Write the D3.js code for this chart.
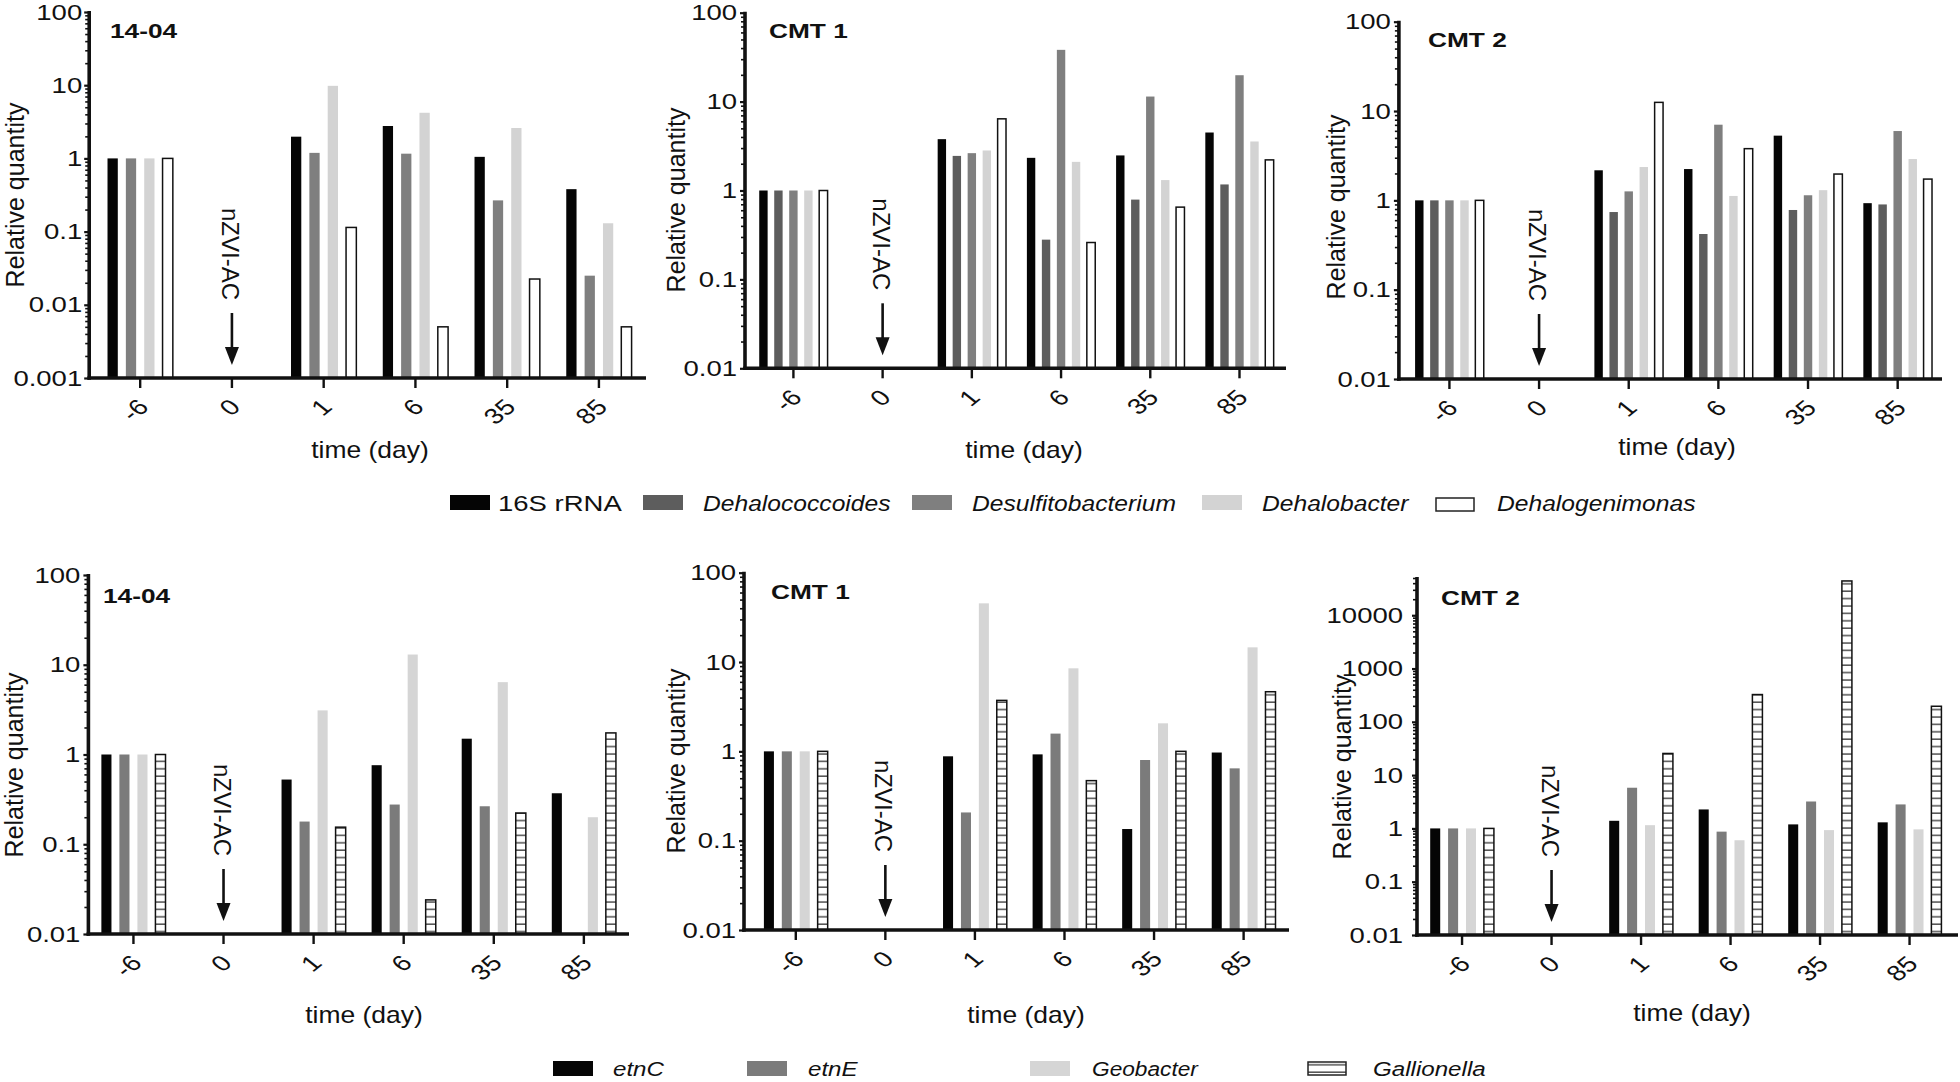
<!DOCTYPE html>
<html>
<head>
<meta charset="utf-8">
<script src="https://cdn.jsdelivr.net/npm/d3@7"></script>
<style>
  html, body { margin: 0; padding: 0; background: #fff; }
  svg { display: block; font-family: "Liberation Sans", Arial, sans-serif; }
</style>
</head>
<body>
<svg id="chart" width="1960" height="1082"></svg>
<script>
// ---------------- DATA ----------------
const days = ["-6", "0", "1", "6", "35", "85"];
const seriesTop = ["16S rRNA", "Dehalococcoides", "Desulfitobacterium", "Dehalobacter", "Dehalogenimonas"];
const seriesBottom = ["etnC", "etnE", "Geobacter", "Gallionella"];

// Top row, 14-04
const t1404_16S    = [1, null, 1.98, 2.77, 1.05, 0.38];
const t1404_Desulf = [1, null, 1.19, 1.16, 0.267, 0.025];
const t1404_Dhb    = [1, null, 9.8, 4.2, 2.6, 0.13];
const t1404_Dhg    = [1, null, 0.114, 0.005, 0.0225, 0.005];
// Top row, CMT 1
const tC1_16S    = [1, null, 3.78, 2.33, 2.48, 4.49];
const tC1_Dhc    = [1, null, 2.45, 0.28, 0.79, 1.17];
const tC1_Desulf = [1, null, 2.63, 38.2, 11.4, 19.8];
const tC1_Dhb    = [1, null, 2.82, 2.1, 1.31, 3.56];
const tC1_Dhg    = [1, null, 6.4, 0.26, 0.65, 2.21];
// Top row, CMT 2
const tC2_16S    = [1, null, 2.17, 2.24, 5.3, 0.93];
const tC2_Dhc    = [1, null, 0.74, 0.42, 0.78, 0.9];
const tC2_Desulf = [1, null, 1.26, 7.03, 1.14, 5.97];
const tC2_Dhb    = [1, null, 2.36, 1.12, 1.3, 2.9];
const tC2_Dhg    = [1, null, 12.5, 3.79, 1.97, 1.73];
// Bottom row, 14-04
const b1404_etnC = [1, null, 0.526, 0.76, 1.5, 0.37];
const b1404_etnE = [1, null, 0.179, 0.277, 0.265, null];
const b1404_Geo  = [1, null, 3.1, 13.0, 6.4, 0.2];
const b1404_Gal  = [1, null, 0.155, 0.024, 0.223, 1.74];
// Bottom row, CMT 1
const bC1_etnC = [1, null, 0.88, 0.925, 0.135, 0.97];
const bC1_etnE = [1, null, 0.207, 1.58, 0.8, 0.645];
const bC1_Geo  = [1, null, 45.4, 8.5, 2.06, 14.6];
const bC1_Gal  = [1, null, 3.72, 0.47, 1.0, 4.65];
// Bottom row, CMT 2
const bC2_etnC = [1, null, 1.39, 2.27, 1.19, 1.3];
const bC2_etnE = [1, null, 5.8, 0.87, 3.2, 2.82];
const bC2_Geo  = [1, null, 1.15, 0.6, 0.93, 0.96];
const bC2_Gal  = [1, null, 25.5, 325, 44000, 196];

// Axis ranges and tick labels
const domainA = [0.001, 100];
const domainB = [0.01, 100];
const domainC = [0.01, 50000];
const ticksA = [0.001, 0.01, 0.1, 1, 10, 100];
const ticksB = [0.01, 0.1, 1, 10, 100];
const ticksC = [0.01, 0.1, 1, 10, 100, 1000, 10000];

const panelTitles = ["14-04", "CMT 1", "CMT 2", "14-04", "CMT 1", "CMT 2"];
const yTitle = "Relative quantity";
const xTitle = "time (day)";
const annotation = "nZVI-AC";

// ---------------- STYLE / LAYOUT ----------------
const colors = {
  "16S rRNA": "#050505", "Dehalococcoides": "#5d5d5d", "Desulfitobacterium": "#7f7f7f",
  "Dehalobacter": "#d3d3d3", "Dehalogenimonas": "#ffffff",
  "etnC": "#050505", "etnE": "#7b7b7b", "Geobacter": "#d5d5d5", "Gallionella": "url(#hatch)"
};
const outlined = new Set(["Dehalogenimonas", "Gallionella"]);
const FONT = "Liberation Sans, Arial, sans-serif";
const SX = 1.25; // horizontal stretch of tick labels / titles in the picture

const panels = [
  { series: ["16S rRNA", "Desulfitobacterium", "Dehalobacter", "Dehalogenimonas"],
    values: [t1404_16S, t1404_Desulf, t1404_Dhb, t1404_Dhg], domain: domainA, ticks: ticksA,
    ax: 89.2, yT: 12, yB: 378, rL: 94.3, rR: 644.8, xEnd: 646, pad: 2,
    title: [110, 38], ylab: [15, 195], xlab: [370, 450] },
  { series: seriesTop,
    values: [tC1_16S, tC1_Dhc, tC1_Desulf, tC1_Dhb, tC1_Dhg], domain: domainB, ticks: ticksB,
    ax: 745, yT: 12.7, yB: 368.3, rL: 748.8, rR: 1284.1, xEnd: 1286, pad: 3,
    title: [769, 38], ylab: [676, 200], xlab: [1024, 450] },
  { series: seriesTop,
    values: [tC2_16S, tC2_Dhc, tC2_Desulf, tC2_Dhb, tC2_Dhg], domain: domainB, ticks: ticksB,
    ax: 1398.9, yT: 21.7, yB: 379, rL: 1404.6, rR: 1942.5, xEnd: 1942, pad: 3,
    title: [1428, 47], ylab: [1336, 207], xlab: [1677, 447] },
  { series: seriesBottom,
    values: [b1404_etnC, b1404_etnE, b1404_Geo, b1404_Gal], domain: domainB, ticks: ticksB,
    ax: 88.4, yT: 575, yB: 934, rL: 88.4, rR: 628.9, xEnd: 629, pad: 3,
    title: [103, 603], ylab: [14, 765], xlab: [364, 1015] },
  { series: seriesBottom,
    values: [bC1_etnC, bC1_etnE, bC1_Geo, bC1_Gal], domain: domainB, ticks: ticksB,
    ax: 744, yT: 572.7, yB: 930, rL: 751, rR: 1288.4, xEnd: 1289, pad: 3,
    title: [771, 599], ylab: [676, 761], xlab: [1026, 1015] },
  { series: seriesBottom,
    values: [bC2_etnC, bC2_etnE, bC2_Geo, bC2_Gal], domain: domainC, ticks: ticksC,
    ax: 1417, yT: 578, yB: 935, rL: 1417.3, rR: 1954.3, xEnd: 1958, pad: 9,
    title: [1441, 605], ylab: [1342, 767], xlab: [1692, 1013] }
];

const svg = d3.select("#chart");
svg.append("rect").attr("width", 1960).attr("height", 1082).attr("fill", "#fff");

const defs = svg.append("defs");
const pat = defs.append("pattern").attr("id", "hatch").attr("patternUnits", "userSpaceOnUse")
  .attr("width", 10).attr("height", 7.4);
pat.append("rect").attr("width", 10).attr("height", 7.4).attr("fill", "#fff");
pat.append("line").attr("x1", 0).attr("x2", 10).attr("y1", 6.6).attr("y2", 6.6)
  .attr("stroke", "#333").attr("stroke-width", 1.3);

function addText(parent, x, y, str, o) {
  const g = parent.append("g")
    .attr("transform", `translate(${x},${y}) scale(${o.sx ?? 1},1) rotate(${o.rot || 0})`);
  return g.append("text")
    .attr("text-anchor", o.anchor || "start")
    .attr("dy", o.dy || 0)
    .attr("font-size", o.size || 22)
    .attr("font-weight", o.weight || "normal")
    .attr("font-style", o.italic ? "italic" : "normal")
    .attr("fill", "#111")
    .text(str);
}

function minorTicks(domain) {
  const out = [];
  const lo = Math.floor(Math.log10(domain[0])), hi = Math.ceil(Math.log10(domain[1]));
  for (let e = lo; e < hi; e++) {
    for (let m = 2; m <= 9; m++) {
      const v = m * Math.pow(10, e);
      if (v >= domain[0] * 0.999 && v <= domain[1] * 1.001) out.push(v);
    }
  }
  return out;
}

panels.forEach((p, pi) => {
  const g = svg.append("g");
  const y = d3.scaleLog().domain(p.domain).range([p.yB, p.yT]);
  const x = d3.scaleBand().domain(days).range([p.rL, p.rR]);
  const w = (p.series.length === 5 ? 0.84 : 0.80) * x.bandwidth();
  const xi = d3.scaleBand().domain(p.series).range([-w / 2, w / 2]).paddingInner(0.44).paddingOuter(0.22);

  // bars
  p.series.forEach((s, si) => {
    const vals = p.values[si];
    g.append("g").selectAll("rect")
      .data(days.map((d, i) => ({ d, v: vals[i] })).filter(e => e.v != null))
      .join("rect")
      .attr("x", e => x(e.d) + x.bandwidth() / 2 + xi(s))
      .attr("width", xi.bandwidth())
      .attr("y", e => y(e.v))
      .attr("height", e => p.yB - y(e.v))
      .attr("fill", colors[s])
      .attr("stroke", outlined.has(s) ? "#111" : "none")
      .attr("stroke-width", outlined.has(s) ? 1.5 : 0);
  });

  // minor y ticks
  const minor = g.append("g").attr("transform", `translate(${p.ax},0)`)
    .call(d3.axisLeft(y).tickValues(minorTicks(p.domain)).tickFormat("").tickSize(4).tickSizeOuter(0));
  minor.select(".domain").remove();
  minor.selectAll("line").attr("stroke", "#111").attr("stroke-width", 1.6);

  // major y ticks + labels
  const ya = g.append("g").attr("transform", `translate(${p.ax},0)`)
    .call(d3.axisLeft(y).tickValues(p.ticks).tickFormat(d => String(d)).tickSize(5).tickPadding(p.pad).tickSizeOuter(0));
  ya.select(".domain").remove();
  ya.selectAll("line").attr("stroke", "#111").attr("stroke-width", 2.2);
  ya.selectAll("text").each(function () {
    const t = d3.select(this);
    const tx = +t.attr("x");
    t.attr("x", 0).attr("font-size", 22).attr("fill", "#111").attr("font-family", FONT)
      .attr("transform", `translate(${tx},0) scale(${SX},1)`);
  });
  g.append("line").attr("x1", p.ax).attr("x2", p.ax).attr("y1", p.yT - 1).attr("y2", p.yB + 1.7)
    .attr("stroke", "#111").attr("stroke-width", 3.6);

  // x axis
  const xa = g.append("g").attr("transform", `translate(0,${p.yB})`)
    .call(d3.axisBottom(x).tickSize(10).tickSizeOuter(0));
  xa.select(".domain").remove();
  xa.selectAll("line").attr("stroke", "#111").attr("stroke-width", 2.4);
  xa.selectAll("text")
    .attr("x", 0).attr("y", 0).attr("dy", "0.35em")
    .attr("text-anchor", "end").attr("font-size", 22).attr("fill", "#111")
    .attr("font-family", FONT)
    .attr("transform", `translate(3,25) scale(${SX},1) rotate(-45)`);
  g.append("line").attr("x1", p.ax - 1.8).attr("x2", p.xEnd).attr("y1", p.yB).attr("y2", p.yB)
    .attr("stroke", "#111").attr("stroke-width", 3.6);

  // titles
  addText(g, p.title[0], p.title[1], panelTitles[pi], { size: 21, weight: "bold", sx: SX });
  addText(g, p.ylab[0], p.ylab[1], yTitle, { size: 25, rot: -90, anchor: "middle", dy: "0.35em" });
  addText(g, p.xlab[0], p.xlab[1], xTitle, { size: 23, anchor: "middle", dy: "0.35em", sx: 1.15 });

  // nZVI-AC annotation and arrow at day 0
  const x0 = x("0") + x.bandwidth() / 2;
  addText(g, x0 - 1.5, p.yB - 78, annotation, { size: 24, rot: 90, anchor: "end", dy: "0.35em" });
  g.append("line").attr("x1", x0).attr("x2", x0).attr("y1", p.yB - 65).attr("y2", p.yB - 26)
    .attr("stroke", "#111").attr("stroke-width", 2.6);
  g.append("path")
    .attr("d", `M${x0 - 7},${p.yB - 31} L${x0 + 7},${p.yB - 31} L${x0},${p.yB - 13} Z`)
    .attr("fill", "#111");
});

// ---------------- LEGENDS ----------------
const legTop = svg.append("g");
const legTopX = [450, 643, 912, 1202, 1435];
const legTopTX = [498, 703, 972, 1262, 1497];
seriesTop.forEach((s, i) => {
  const white = outlined.has(s);
  legTop.append("rect").attr("x", legTopX[i] + (white ? 1 : 0)).attr("y", white ? 498 : 495)
    .attr("width", white ? 38 : 40).attr("height", white ? 13 : 15)
    .attr("fill", colors[s]).attr("stroke", white ? "#222" : "none").attr("stroke-width", 1.5);
  addText(legTop, legTopTX[i], 511, s, { size: 22, sx: i === 0 ? 1.25 : 1.12, italic: i > 0 });
});

const legBot = svg.append("g");
const legBotX = [553, 747, 1030, 1307];
const legBotTX = [613, 808, 1092, 1373];
seriesBottom.forEach((s, i) => {
  const hatched = outlined.has(s);
  legBot.append("rect").attr("x", legBotX[i] + (hatched ? 1 : 0)).attr("y", hatched ? 1062 : 1061)
    .attr("width", hatched ? 38 : 40).attr("height", hatched ? 13 : 15)
    .attr("fill", colors[s]).attr("stroke", hatched ? "#222" : "none").attr("stroke-width", 1.5);
  addText(legBot, legBotTX[i], 1076, s, { size: 21, sx: i === 2 ? 1.08 : 1.15, italic: true });
});
</script>
</body>
</html>
